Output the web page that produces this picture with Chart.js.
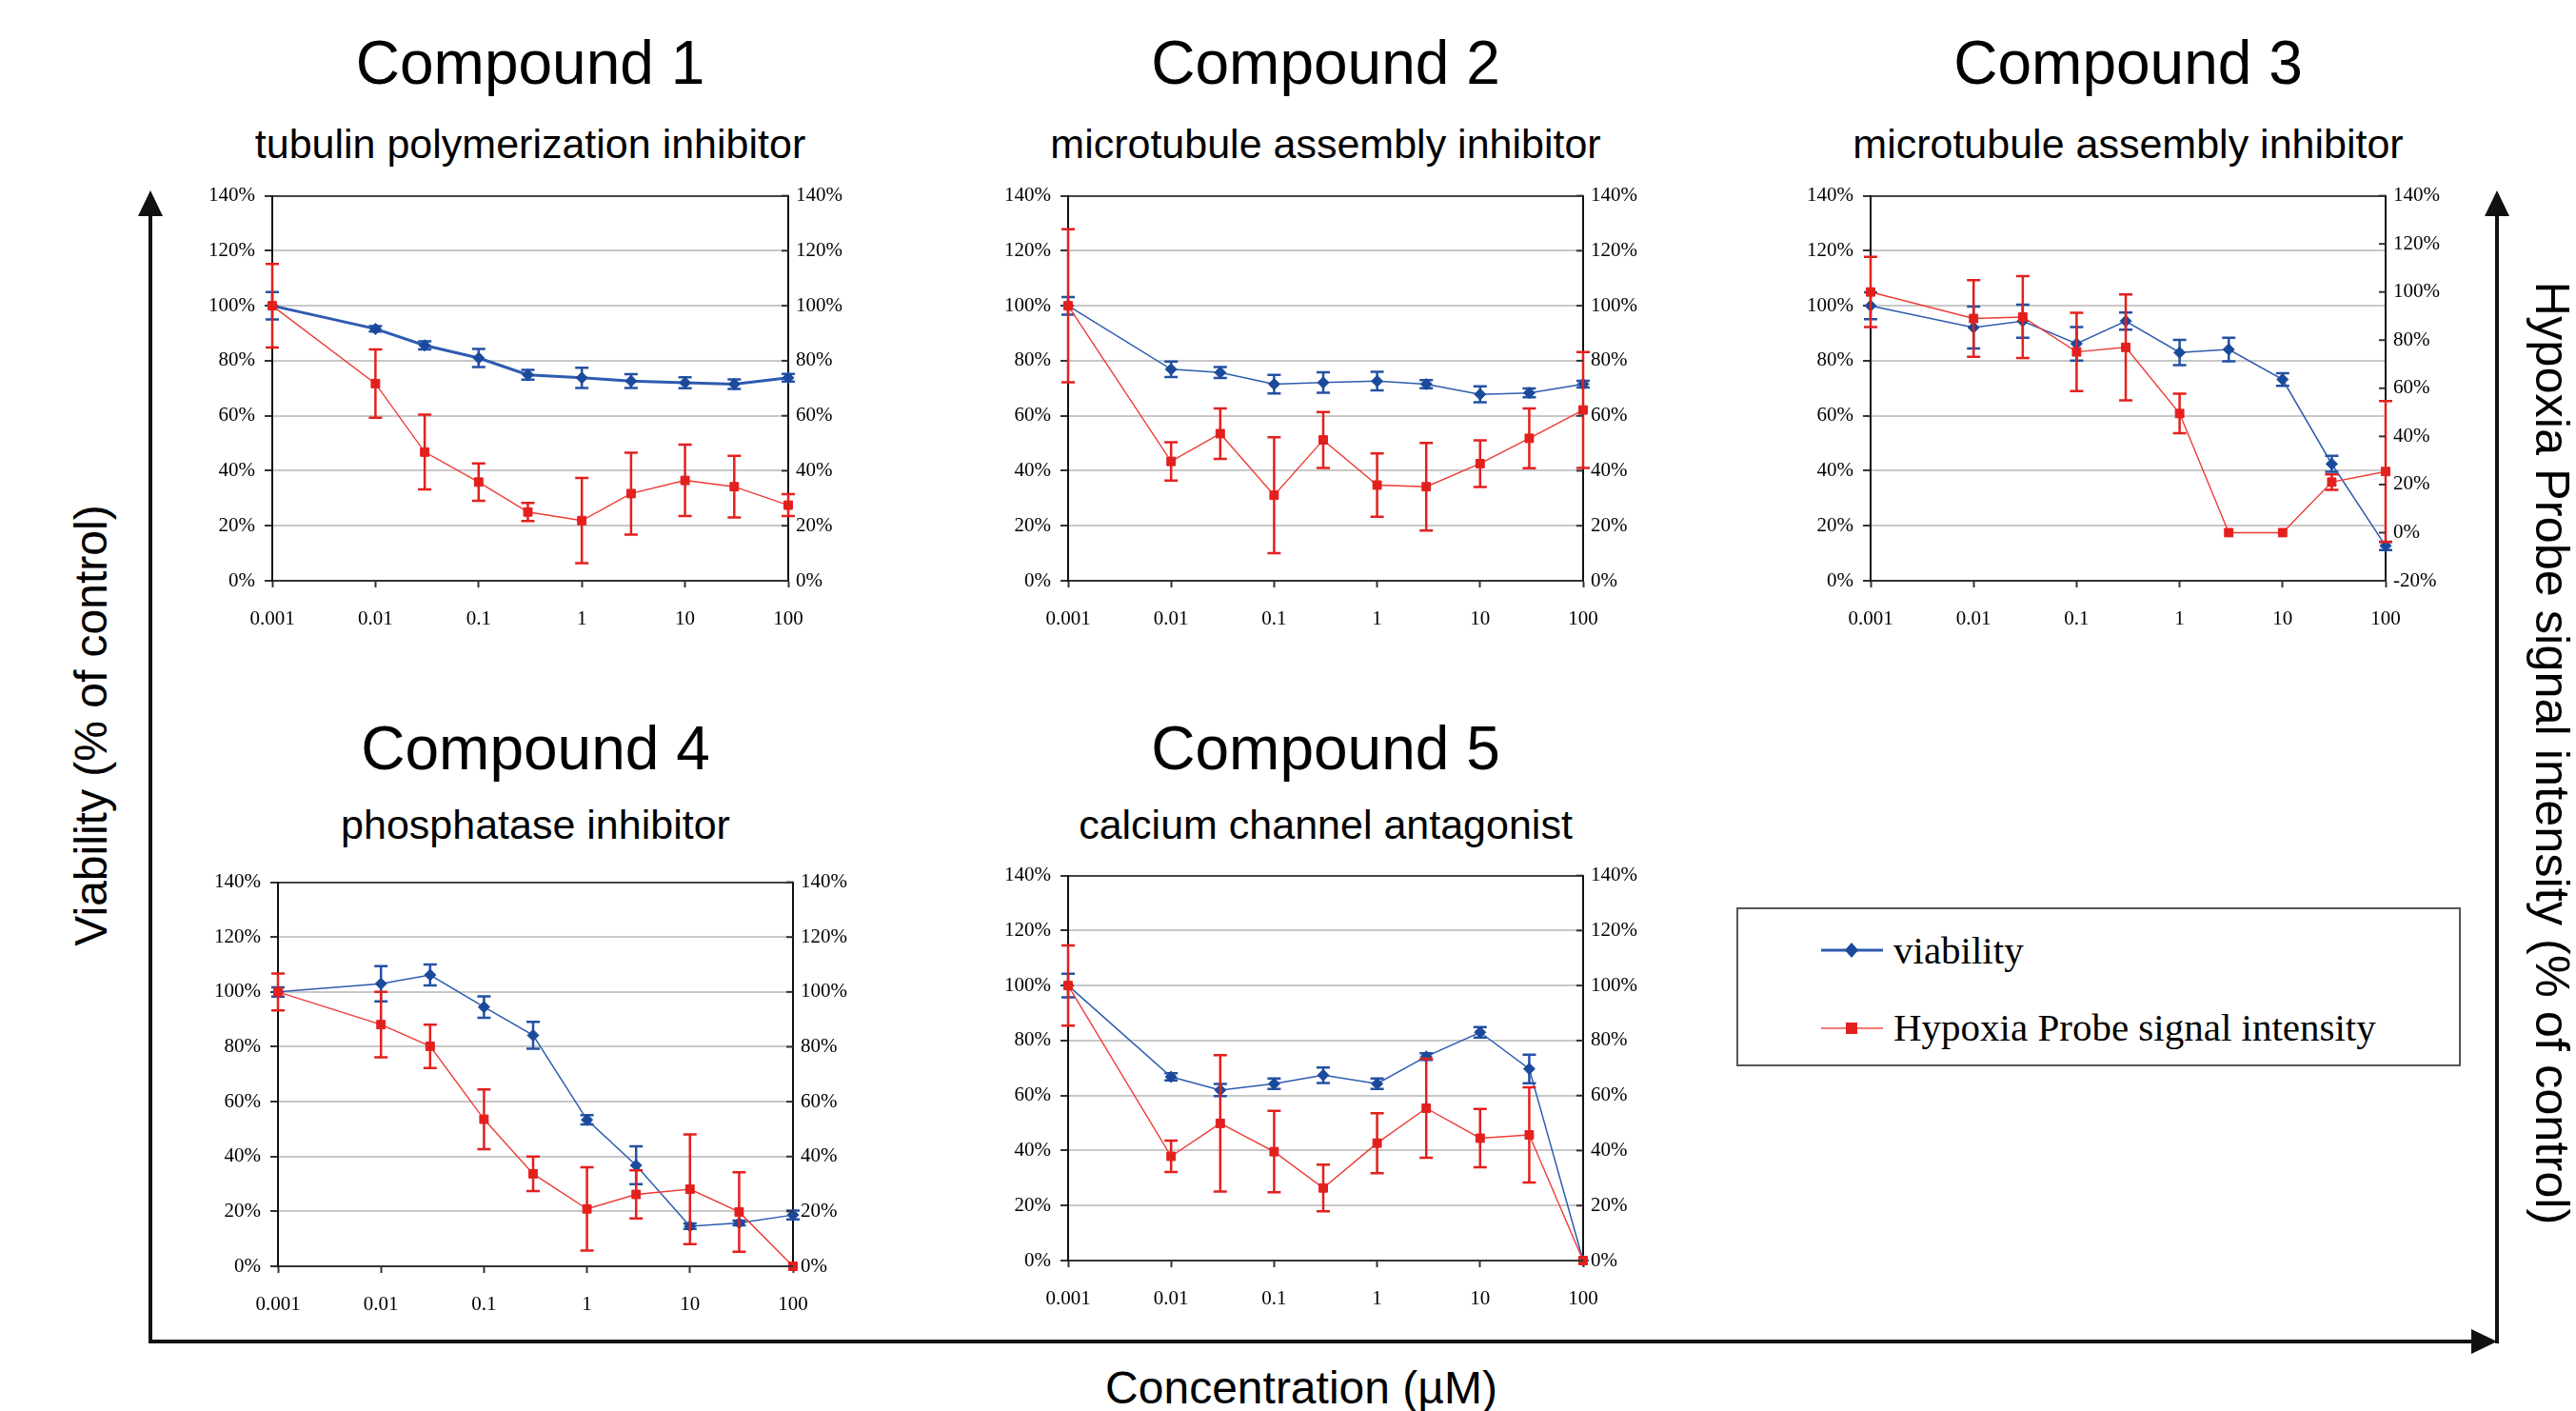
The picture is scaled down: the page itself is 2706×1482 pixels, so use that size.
<!DOCTYPE html>
<html>
<head>
<meta charset="utf-8">
<script src="https://cdn.jsdelivr.net/npm/chart.js@4.4.1/dist/chart.umd.min.js"></script>
<style>
  html, body { margin: 0; padding: 0; background: #fff; }
  #page { position: relative; width: 2706px; height: 1482px; overflow: hidden; background: #fff; }
  canvas { position: absolute; }
  .title, .sub, .axlabel { position: absolute; white-space: nowrap; font-family: 'Liberation Sans', Arial, sans-serif; color: #000; transform: translateX(-50%); }
  .title { font-size: 64px; line-height: 64px; }
  .sub { font-size: 43px; line-height: 43px; }
  .axlabel { font-size: 48px; line-height: 48px; }
  #overlay { position: absolute; left: 0; top: 0; }
</style>
</head>
<body>
<div id="page">
  <svg id="overlay" width="2706" height="1482">
    <g stroke="#111" stroke-width="4" fill="#111">
      <line x1="158" y1="1409" x2="158" y2="224" />
      <polygon points="158,200 145,227 171,227" stroke="none" />
      <line x1="156" y1="1409" x2="2598" y2="1409" />
      <polygon points="2623,1409 2596,1396 2596,1422" stroke="none" />
      <line x1="2623" y1="1411" x2="2623" y2="224" />
      <polygon points="2623,200 2610,227 2636,227" stroke="none" />
    </g>
    <g id="legend">
      <rect x="1825" y="954" width="759" height="165" fill="#fff" stroke="#555" stroke-width="2" />
      <line x1="1913" y1="998" x2="1978" y2="998" stroke="#2d5bb0" stroke-width="3" />
      <polygon points="1945,990 1952,998 1945,1006 1938,998" fill="#1b4a9c" />
      <text x="1989" y="1012" font-family="Liberation Serif" font-size="41">viability</text>
      <line x1="1913" y1="1080" x2="1978" y2="1080" stroke="#f07a74" stroke-width="2" />
      <rect x="1939" y="1074" width="12" height="12" fill="#e3201e" />
      <text x="1989" y="1093" font-family="Liberation Serif" font-size="41">Hypoxia Probe signal intensity</text>
    </g>
  </svg>
  <div class="axlabel" style="left:96px; top:738px; transform: translateX(-50%) rotate(-90deg);">Viability (% of control)</div>
  <div class="axlabel" style="left:2681px; top:766px; font-size:50.5px; line-height:50px; transform: translateX(-50%) rotate(90deg);">Hypoxia Probe signal intensity (% of control)</div>
  <div class="axlabel" style="left:1367px; top:1434px;">Concentration (µM)</div>
</div>
<script>
// concentrations tested (µM)
var concentrations = [0.001, 0.01, 0.03, 0.1, 0.3, 1, 3, 10, 30, 100];
var xTickValues = [0.001, 0.01, 0.1, 1, 10, 100];
var xTickLabels = ['0.001', '0.01', '0.1', '1', '10', '100'];

var compoundNames = ['Compound 1', 'Compound 2', 'Compound 3', 'Compound 4', 'Compound 5'];
var compoundClasses = ['tubulin polymerization inhibitor', 'microtubule assembly inhibitor',
  'microtubule assembly inhibitor', 'phosphatase inhibitor', 'calcium channel antagonist'];

// viability (% of control), left axis
var viability1 = [100, 91.6, 85.6, 81.0, 74.9, 73.8, 72.6, 72.0, 71.5, 73.8];
var viability1Err = [5, 1, 1.5, 3.3, 1.8, 3.7, 2.5, 2, 1.7, 1.4];
var viability2 = [100, 76.9, 75.7, 71.5, 72.1, 72.6, 71.5, 67.8, 68.3, 71.5];
var viability2Err = [3.2, 2.8, 2, 3.4, 3.7, 3.4, 1.5, 2.9, 1.6, 1.2];
var viability3 = [100, 92.1, 94.4, 86.2, 94.4, 83.0, 84.1, 73.2, 42.5, 12.7];
var viability3Err = [4.9, 7.6, 6, 6.1, 3.1, 4.6, 4.3, 2.3, 2.9, 1.5];
var viability4 = [100, 103.0, 106.2, 94.5, 84.2, 53.4, 36.8, 14.6, 15.8, 18.7];
var viability4Err = [1.7, 6.4, 3.8, 3.9, 4.9, 1.7, 6.9, 1, 0.9, 1.6];
var viability5 = [100, 66.8, 62.0, 64.3, 67.4, 64.3, 74.2, 83.0, 69.7, 0];
var viability5Err = [4.3, 1.3, 2.2, 1.9, 2.8, 1.9, 1.2, 1.9, 5.2, 0];

// Hypoxia Probe signal intensity (% of control), right axis
var hypoxia1 = [100, 71.7, 46.8, 35.9, 25.0, 21.9, 31.7, 36.5, 34.2, 27.5];
var hypoxia1Err = [15.2, 12.4, 13.6, 6.8, 3.3, 15.5, 14.9, 13, 11.2, 4];
var hypoxia2 = [100, 43.4, 53.5, 31.1, 51.2, 34.8, 34.2, 42.6, 51.8, 62.1];
var hypoxia2Err = [27.8, 7, 9.2, 21.1, 10.2, 11.5, 15.9, 8.5, 10.9, 21.1];
var hypoxia3 = [100, 89.0, 89.6, 75.1, 77.0, 49.5, 0, 0, 21, 25.4];
var hypoxia3Err = [14.6, 15.9, 17, 16.3, 22, 8.2, 0, 0, 3.2, 29.3];
var hypoxia4 = [100, 88.1, 80.2, 53.6, 33.7, 20.9, 26.2, 28.1, 19.8, 0];
var hypoxia4Err = [6.7, 11.9, 7.9, 10.9, 6.3, 15.2, 8.8, 20, 14.5, 0];
var hypoxia5 = [100, 37.9, 49.9, 39.6, 26.4, 42.7, 55.4, 44.5, 45.7, 0];
var hypoxia5Err = [14.6, 5.7, 24.8, 14.8, 8.5, 10.9, 18, 10.6, 17.3, 0];

var viabilitySets = [viability1, viability2, viability3, viability4, viability5];
var viabilityErrSets = [viability1Err, viability2Err, viability3Err, viability4Err, viability5Err];
var hypoxiaSets = [hypoxia1, hypoxia2, hypoxia3, hypoxia4, hypoxia5];
var hypoxiaErrSets = [hypoxia1Err, hypoxia2Err, hypoxia3Err, hypoxia4Err, hypoxia5Err];
var rightAxisMin = [0, 0, -20, 0, 0];

// plot area of each panel on the page
var panels = [
  {left: 286, top: 206, width: 542, height: 407, titleTop: 34, subTop: 130, blueWidth: 3},
  {left: 1122, top: 206, width: 541, height: 407, titleTop: 34, subTop: 130, blueWidth: 1.5},
  {left: 1965, top: 206, width: 541, height: 407, titleTop: 34, subTop: 130, blueWidth: 1.5},
  {left: 292, top: 927, width: 541, height: 406, titleTop: 754, subTop: 845, blueWidth: 1.5},
  {left: 1122, top: 920, width: 541, height: 407, titleTop: 754, subTop: 845, blueWidth: 1.5}
];

var AXIS_W = 90, XAXIS_H = 64, PAD_TOP = 20;
var tickFont = {family: "'Liberation Serif', 'Times New Roman', serif", size: 21};

var errorBars = {
  id: 'errorBars',
  beforeDatasetDraw: function(chart, args) {
    var ds = chart.data.datasets[args.index];
    if (!ds.errors) return;
    var yScale = chart.scales[args.meta.yAxisID];
    var ctx = chart.ctx;
    ctx.save();
    ctx.strokeStyle = ds.errorColor;
    ctx.lineWidth = 2.5;
    args.meta.data.forEach(function(pt, i) {
      var e = ds.errors[i];
      if (!e) return;
      var v = ds.data[i].y;
      var top = yScale.getPixelForValue(v + e);
      var bot = yScale.getPixelForValue(v - e);
      ctx.beginPath();
      ctx.moveTo(pt.x, top);
      ctx.lineTo(pt.x, bot);
      ctx.moveTo(pt.x - 7, top);
      ctx.lineTo(pt.x + 7, top);
      ctx.moveTo(pt.x - 7, bot);
      ctx.lineTo(pt.x + 7, bot);
      ctx.stroke();
    });
    ctx.restore();
  }
};

// tick marks of the right axis point into the plot
var innerTicks = {
  id: 'innerTicks',
  afterDraw: function(chart) {
    var s = chart.scales.y1;
    var ctx = chart.ctx;
    ctx.save();
    ctx.strokeStyle = '#333';
    ctx.lineWidth = 2;
    s.ticks.forEach(function(t) {
      var y = s.getPixelForValue(t.value);
      ctx.beginPath();
      ctx.moveTo(s.left, y);
      ctx.lineTo(s.left - 7, y);
      ctx.stroke();
    });
    ctx.restore();
  }
};

function toPoints(values) {
  return values.map(function(v, i) { return {x: concentrations[i], y: v}; });
}

function makePanel(i) {
  var p = panels[i];
  var page = document.getElementById('page');

  var t = document.createElement('div');
  t.className = 'title';
  t.textContent = compoundNames[i];
  t.style.left = (p.left + p.width / 2) + 'px';
  t.style.top = p.titleTop + 'px';
  page.appendChild(t);

  var s = document.createElement('div');
  s.className = 'sub';
  s.textContent = compoundClasses[i];
  s.style.left = (p.left + p.width / 2) + 'px';
  s.style.top = p.subTop + 'px';
  page.appendChild(s);

  var canvas = document.createElement('canvas');
  canvas.width = p.width + 2 * AXIS_W;
  canvas.height = p.height + PAD_TOP + XAXIS_H;
  canvas.style.left = (p.left - AXIS_W) + 'px';
  canvas.style.top = (p.top - PAD_TOP) + 'px';
  page.appendChild(canvas);

  var chart = new Chart(canvas.getContext('2d'), {
    type: 'line',
    data: {
      datasets: [{
        label: 'viability',
        data: toPoints(viabilitySets[i]),
        errors: viabilityErrSets[i],
        errorColor: '#2351a3',
        yAxisID: 'y',
        borderColor: '#2d5bb0',
        borderWidth: p.blueWidth,
        pointStyle: 'rectRot',
        pointRadius: 6,
        pointBackgroundColor: '#1b4a9c',
        pointBorderColor: '#1b4a9c',
        pointBorderWidth: 1,
        tension: 0,
        clip: false,
        order: 2
      }, {
        label: 'Hypoxia Probe signal intensity',
        data: toPoints(hypoxiaSets[i]),
        errors: hypoxiaErrSets[i],
        errorColor: '#e3201e',
        yAxisID: 'y1',
        borderColor: '#ee3b34',
        borderWidth: 1.4,
        pointStyle: 'rect',
        pointRadius: 6.3,
        pointBackgroundColor: '#e3201e',
        pointBorderColor: '#e3201e',
        pointBorderWidth: 1,
        tension: 0,
        clip: false,
        order: 1
      }]
    },
    options: {
      responsive: false,
      animation: false,
      devicePixelRatio: 1,
      layout: {padding: {top: PAD_TOP, left: 0, right: 0, bottom: 0}},
      plugins: {legend: {display: false}, tooltip: {enabled: false}},
      scales: {
        x: {
          type: 'logarithmic',
          min: 0.001,
          max: 100,
          afterBuildTicks: function(scale) {
            scale.ticks = xTickValues.map(function(v) { return {value: v}; });
          },
          afterFit: function(scale) { scale.height = XAXIS_H; },
          ticks: {
            autoSkip: false,
            maxRotation: 0,
            padding: 21,
            color: '#000',
            font: tickFont,
            callback: function(v, idx) { return xTickLabels[idx]; }
          },
          grid: {drawOnChartArea: false, drawTicks: true, tickLength: 7, tickColor: '#333', tickWidth: 2},
          border: {display: true, color: '#333', width: 2}
        },
        y: {
          position: 'left',
          min: 0,
          max: 140,
          afterFit: function(scale) { scale.width = AXIS_W; },
          ticks: {
            stepSize: 20,
            padding: 10,
            color: '#000',
            font: tickFont,
            callback: function(v) { return v + '%'; }
          },
          grid: {
            color: function(c) {
              var v = c.tick ? c.tick.value : null;
              return (v === 0 || v === 140) ? '#444' : '#c8c8c8';
            },
            lineWidth: 2,
            tickLength: 8,
            tickColor: '#333',
            tickWidth: 2
          },
          border: {display: true, color: '#111', width: 2}
        },
        y1: {
          position: 'right',
          min: rightAxisMin[i],
          max: 140,
          afterFit: function(scale) { scale.width = AXIS_W; },
          ticks: {
            stepSize: 20,
            padding: 8,
            color: '#000',
            font: tickFont,
            callback: function(v) { return v + '%'; }
          },
          grid: {drawOnChartArea: false, drawTicks: false},
          border: {display: true, color: '#111', width: 2}
        }
      }
    },
    plugins: [errorBars, innerTicks]
  });

  // line the plot area up with the reference exactly
  var a = chart.chartArea;
  canvas.style.left = (p.left - a.left) + 'px';
  canvas.style.top = (p.top - a.top) + 'px';
}

for (var i = 0; i < panels.length; i++) {
  makePanel(i);
}
</script>
</body>
</html>
